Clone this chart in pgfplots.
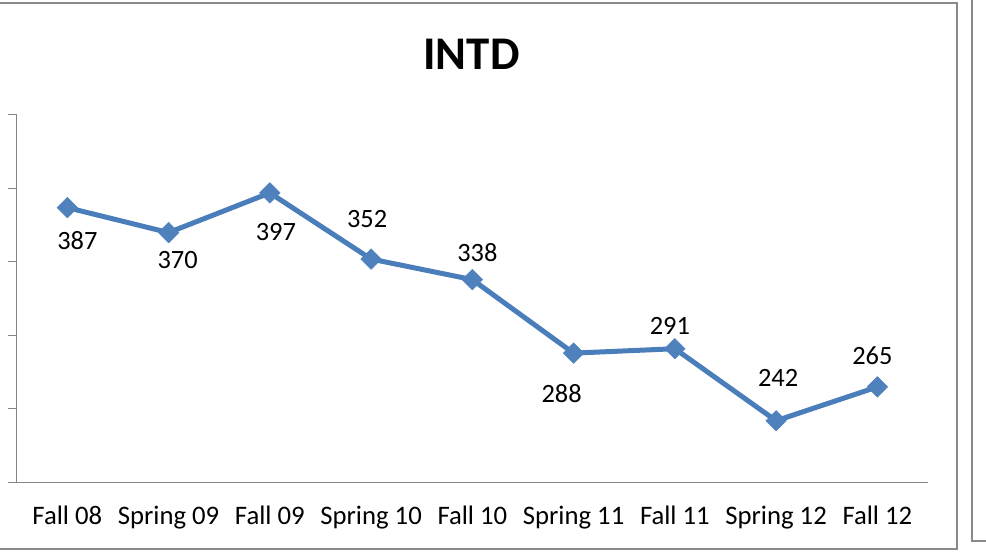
\documentclass[border=0pt]{standalone}
\usepackage{pgfplots}
\pgfplotsset{compat=1.18}
\usepackage{pgfplotstable}
\usepackage{fontspec}
\setmainfont{Carlito}
\definecolor{ser}{HTML}{4A7EBB}
\definecolor{mk}{HTML}{4F81BD}
\definecolor{ax}{HTML}{868686}
\definecolor{bd}{HTML}{8A8A8A}
\pgfplotstableread{
x y dx dy
0 387 10 -33
1 370 9 -27
2 397 6 -39
3 352 -4 40
4 338 5 27
5 288 -12 -40
6 291 -5 23
7 242 2 43
8 265 -5 31
}\datatable
\begin{document}
\begin{tikzpicture}
\useasboundingbox (0,0) rectangle (986bp,558bp);
\fill[white] (0,0) rectangle (986bp,558bp);
\draw[bd, line width=1.7bp] (-5bp,554.7bp) -- (957bp,554.7bp) -- (957bp,9bp) -- (-5bp,9bp);
\draw[bd, line width=1.7bp] (1000bp,17bp) -- (972bp,17bp) -- (972bp,570bp);
\node[font=\bfseries\fontsize{47}{52}\selectfont, anchor=base, inner sep=0pt] at (471.5bp,488bp) {INTD};
\begin{axis}[
  scale only axis,
  width=911.3bp, height=367.5bp,
  at={(16.7bp,75.5bp)}, anchor=south west,
  xmin=-0.5, xmax=8.5, ymin=200, ymax=450,
  axis lines*=left,
  axis line style={draw=ax, line width=1bp},
  ytick={200,250,300,350,400,450},
  yticklabels={},
  tick align=outside,
  major tick length=8.5bp,
  ytick style={draw=ax, line width=1bp},
  xtick={0,...,8},
  xticklabels={Fall 08,Spring 09,Fall 09,Spring 10,Fall 10,Spring 11,Fall 11,Spring 12,Fall 12},
  xtick style={draw=none},
  xticklabel style={font=\fontsize{26.8}{30}\selectfont, anchor=base, inner sep=0pt, yshift=-33.5bp},
  clip=false,
]
\addplot[
  color=ser, line width=5bp,
  mark=square*,
  mark size=7.3bp,
  mark options={solid, fill=mk, draw=mk, line width=0.4bp, rotate=45},
  visualization depends on={\thisrow{dx}\as\dx},
  visualization depends on={\thisrow{dy}\as\dy},
  nodes near coords,
  point meta=explicit symbolic,
  every node near coord/.style={anchor=center, inner sep=0pt, text=black, font=\fontsize{26.5}{30}\selectfont, xshift=\dx bp, yshift=\dy bp},
] table[x=x, y=y, meta=y] {\datatable};
\end{axis}
\end{tikzpicture}
\end{document}
